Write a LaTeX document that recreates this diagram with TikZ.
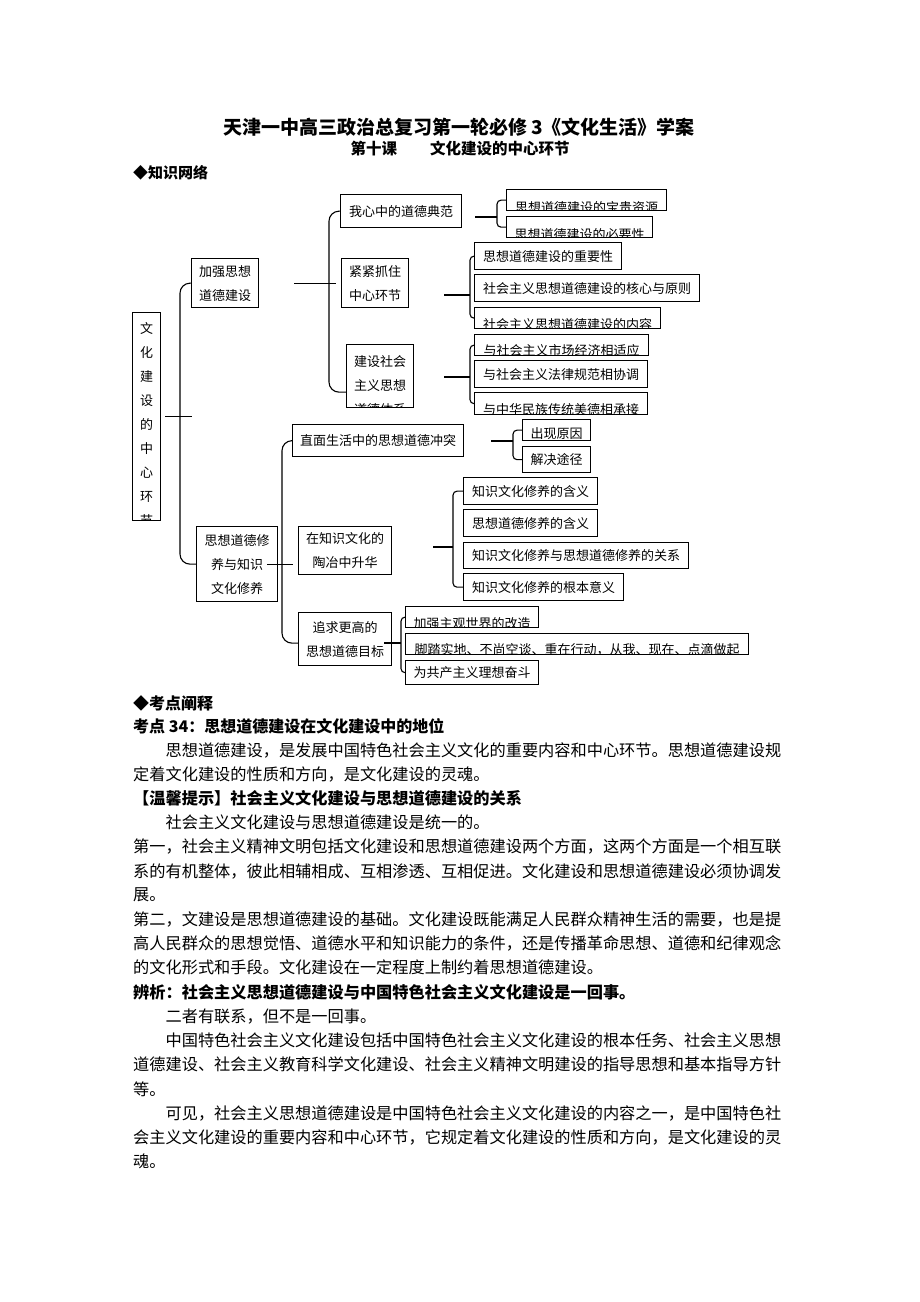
\documentclass[tikz,border=0pt]{standalone}
\usepackage{fontspec}
\setmainfont{Noto Sans CJK SC}
\usetikzlibrary{calc}

\begin{document}
\begin{tikzpicture}[x=1pt,y=1pt,
    box/.style={draw,line width=1.3pt,inner sep=0pt,anchor=north west,align=center,font=\fontsize{13}{24}\selectfont},
    cut/.style 2 args={box,path picture={\node[draw=none,anchor=center,inner sep=0pt,minimum width=0pt,minimum height=0pt,align=center,font=\fontsize{13}{24}\selectfont] at ([yshift=#2]path picture bounding box.center) {#1};}},
    link/.style={line width=1.1pt},
    txt/.style={anchor=west,inner sep=0pt,font=\fontsize{16.2}{20}\selectfont}]
    \useasboundingbox (0,0) rectangle (920,-1302);
    \node[font=\bfseries\fontsize{19}{22}\selectfont] (title) at (459,-127) {天津一中高三政治总复习第一轮必修 3《文化生活》学案};
    \node[font=\bfseries\fontsize{15.5}{18}\selectfont] (sub) at (460,-149) {第十课\hspace{33pt}文化建设的中心环节};
    \node[txt,font=\bfseries\fontsize{15}{18}\selectfont] (net) at (133,-173) {◆知识网络};

    \node[cut={文\\化\\建\\设\\的\\中\\心\\环\\节}{-8},minimum width=28,minimum height=208] (wh) at (132,-312) {};
    \node[box,minimum width=67,minimum height=49] (jq) at (191,-258) {加强思想\\道德建设};
    \node[box,minimum width=81,minimum height=75] (sx) at (196,-526) {思想道德修\\养与知识\\文化修养};
    \node[box,minimum width=121,minimum height=33] (dm) at (340,-194) {我心中的道德典范};
    \node[box,minimum width=67,minimum height=49] (jj) at (341,-258) {紧紧抓住\\中心环节};
    \node[cut={建设社会\\主义思想\\道德体系}{-9.5},minimum width=67,minimum height=63] (tx) at (346,-344) {};
    \node[cut={思想道德建设的宝贵资源}{-7},minimum width=160,minimum height=21] (zy) at (506,-189) {};
    \node[cut={思想道德建设的必要性}{-7},minimum width=146,minimum height=21] (by) at (506,-216) {};
    \node[box,minimum width=147,minimum height=27] (zyx) at (474,-242) {思想道德建设的重要性};
    \node[box,minimum width=225,minimum height=27] (hx) at (474,-274) {社会主义思想道德建设的核心与原则};
    \node[cut={社会主义思想道德建设的内容}{-6},minimum width=186,minimum height=21] (nr) at (474,-307) {};
    \node[cut={与社会主义市场经济相适应}{-5},minimum width=174,minimum height=21] (sc) at (474,-334) {};
    \node[box,minimum width=173,minimum height=27] (fl) at (474,-360) {与社会主义法律规范相协调};
    \node[cut={与中华民族传统美德相承接}{-5.5},minimum width=173,minimum height=22] (ct) at (474,-392) {};
    \node[box,minimum width=171,minimum height=32] (zm) at (292,-424) {直面生活中的思想道德冲突};
    \node[box,minimum width=93,minimum height=48] (zs) at (298,-526) {在知识文化的\\陶冶中升华};
    \node[box,minimum width=93,minimum height=53] (zq) at (298,-612) {追求更高的\\思想道德目标};
    \node[cut={出现原因}{-3},minimum width=68,minimum height=21] (yy) at (522,-419) {};
    \node[box,minimum width=68,minimum height=26] (tj) at (522,-446) {解决途径};
    \node[box,minimum width=134,minimum height=27] (k1) at (463,-477) {知识文化修养的含义};
    \node[box,minimum width=134,minimum height=27] (k2) at (463,-509) {思想道德修养的含义};
    \node[box,minimum width=225,minimum height=26] (k3) at (463,-542) {知识文化修养与思想道德修养的关系};
    \node[box,minimum width=160,minimum height=27] (k4) at (463,-573) {知识文化修养的根本意义};
    \node[cut={加强主观世界的改造}{-6},minimum width=133,minimum height=21] (g1) at (405,-606) {};
    \node[cut={脚踏实地、不尚空谈、重在行动，从我、现在、点滴做起}{-6},minimum width=343,minimum height=21] (g2) at (405,-633) {};
    \node[box,minimum width=133,minimum height=24] (g3) at (405,-660) {为共产主义理想奋斗};

    \coordinate (sA) at (180,-418);
    \coordinate (sB) at (329,-300);
    \coordinate (sC) at (282,-540);
    \coordinate (b1) at (497,-217);
    \coordinate (b2) at (470,-295);
    \coordinate (b3) at (470,-377);
    \coordinate (b4) at (513,-441);
    \coordinate (b5) at (453,-547);
    \coordinate (b6) at (401,-643);

    \draw[link,rounded corners=10] (jq.west) -| (sA) |- (sx.west);
    \draw[link] ([xshift=4]wh.east) -- ++(27,0);
    \draw[link,rounded corners=10] (dm.west) -| (sB) |- ([yshift=-16]tx.west);
    \draw[link] ([xshift=35]jq.east) -- ++(42,0);
    \draw[link,rounded corners=10] (zm.west) -| (sC) |- ([yshift=-4]zq.west);
    \draw[link] ([xshift=-11]sx.east) -- ([xshift=15]sx.east);

    \draw[link,rounded corners=4] (zy.west) -| (b1) |- (by.west);
    \draw[link] ($(b1 -| dm.east)+(13,0)$) -- (b1);
    \draw[link,rounded corners=4] (zyx.west) -| (b2) |- (nr.west);
    \draw[link] ($(b2 -| jj.east)+(35,0)$) -- (b2);
    \draw[link,rounded corners=4] (sc.west) -| (b3) |- (ct.west);
    \draw[link] ($(b3 -| tx.east)+(30,0)$) -- (b3);
    \draw[link,rounded corners=4] (yy.west) -| (b4) |- (tj.west);
    \draw[link] ($(b4 -| zm.east)+(27,0)$) -- (b4);
    \draw[link,rounded corners=4] (k1.west) -| (b5) |- (k4.west);
    \draw[link] ($(b5 -| zs.east)+(41,0)$) -- (b5);
    \draw[link,rounded corners=4] (g1.west) -| (b6) |- (g3.west);
    \draw[link] ($(b6 -| zq.east)+(-8,0)$) -- (b6);

    \node[txt,font=\bfseries\fontsize{16}{20}\selectfont] (kd) at (133,-703) {◆考点阐释};
    \node[txt,font=\bfseries\fontsize{16}{20}\selectfont] (kd34) at (133,-726) {考点 34：思想道德建设在文化建设中的地位};
    \foreach \t [count=\i from 0] in {
      {\hspace*{2em}思想道德建设，是发展中国特色社会主义文化的重要内容和中心环节。思想道德建设规},
      {定着文化建设的性质和方向，是文化建设的灵魂。},
      {\bfseries 【温馨提示】社会主义文化建设与思想道德建设的关系},
      {\hspace*{2em}社会主义文化建设与思想道德建设是统一的。},
      {第一，社会主义精神文明包括文化建设和思想道德建设两个方面，这两个方面是一个相互联},
      {系的有机整体，彼此相辅相成、互相渗透、互相促进。文化建设和思想道德建设必须协调发},
      {展。},
      {第二，文建设是思想道德建设的基础。文化建设既能满足人民群众精神生活的需要，也是提},
      {高人民群众的思想觉悟、道德水平和知识能力的条件，还是传播革命思想、道德和纪律观念},
      {的文化形式和手段。文化建设在一定程度上制约着思想道德建设。},
      {\bfseries 辨析：社会主义思想道德建设与中国特色社会主义文化建设是一回事。},
      {\hspace*{2em}二者有联系，但不是一回事。},
      {\hspace*{2em}中国特色社会主义文化建设包括中国特色社会主义文化建设的根本任务、社会主义思想},
      {道德建设、社会主义教育科学文化建设、社会主义精神文明建设的指导思想和基本指导方针},
      {等。},
      {\hspace*{2em}可见，社会主义思想道德建设是中国特色社会主义文化建设的内容之一，是中国特色社},
      {会主义文化建设的重要内容和中心环节，它规定着文化建设的性质和方向，是文化建设的灵},
      {魂。}}
      \node[txt] (l\i) at (133,{-750-24.2*\i}) {\t};
\end{tikzpicture}
\end{document}
